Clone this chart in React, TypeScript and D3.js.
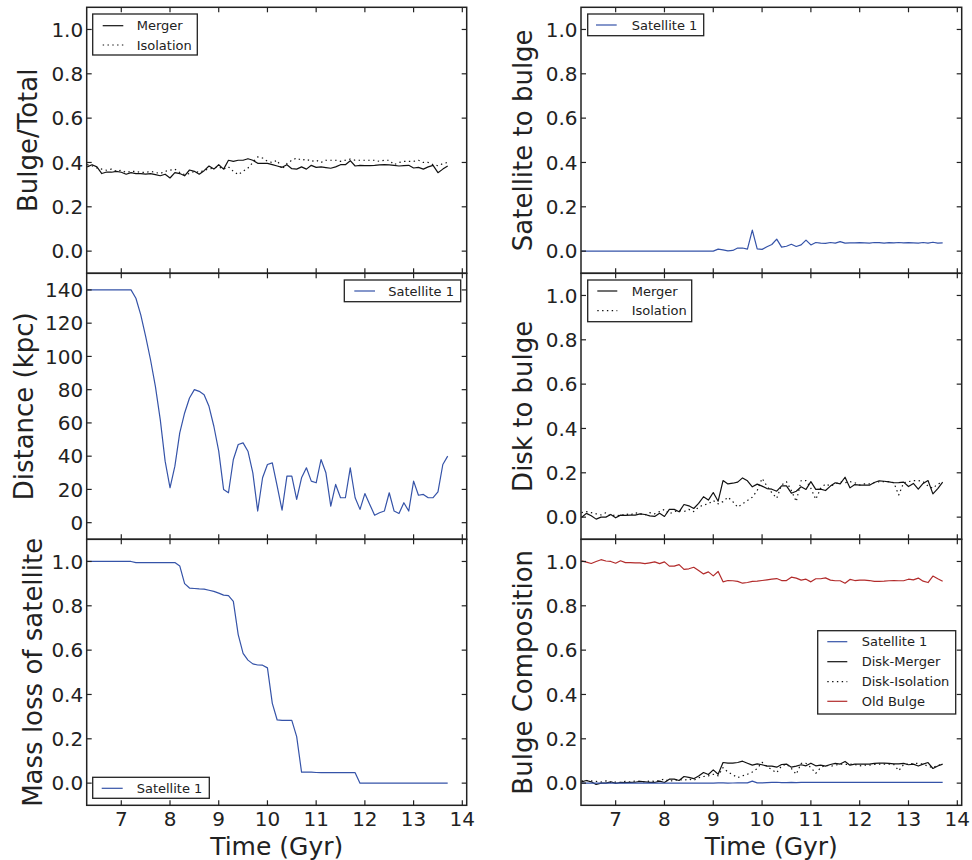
import React from 'react';
import * as d3 from 'd3';

// ---------------- DATA ----------------
const TIME = [
  6.3, 6.4, 6.5, 6.6, 6.7, 6.8, 6.9, 7.0, 7.1, 7.2,
  7.3, 7.4, 7.5, 7.6, 7.7, 7.8, 7.9, 8.0, 8.1, 8.2,
  8.3, 8.4, 8.5, 8.6, 8.7, 8.8, 8.9, 9.0, 9.1, 9.2,
  9.3, 9.4, 9.5, 9.6, 9.7, 9.8, 9.9, 10.0, 10.1, 10.2,
  10.3, 10.4, 10.5, 10.6, 10.7, 10.8, 10.9, 11.0, 11.1, 11.2,
  11.3, 11.4, 11.5, 11.6, 11.7, 11.8, 11.9, 12.0, 12.1, 12.2,
  12.3, 12.4, 12.5, 12.6, 12.7, 12.8, 12.9, 13.0, 13.1, 13.2,
  13.3, 13.4, 13.5, 13.6, 13.7,
];

const BT_MERGER = [
  0.38, 0.39, 0.38, 0.35, 0.357, 0.356, 0.36, 0.356, 0.347, 0.354,
  0.35, 0.35, 0.347, 0.35, 0.345, 0.34, 0.347, 0.33, 0.354, 0.35,
  0.34, 0.366, 0.36, 0.347, 0.363, 0.384, 0.37, 0.39, 0.37, 0.41,
  0.405, 0.41, 0.41, 0.417, 0.41, 0.396, 0.396, 0.396, 0.39, 0.384,
  0.378, 0.39, 0.372, 0.37, 0.38, 0.37, 0.387, 0.378, 0.38, 0.377,
  0.374, 0.38, 0.39, 0.39, 0.408, 0.384, 0.387, 0.386, 0.386, 0.387,
  0.389, 0.39, 0.389, 0.387, 0.384, 0.386, 0.387, 0.375, 0.378, 0.37,
  0.38, 0.387, 0.354, 0.37, 0.384,
];
const BT_ISOLATION = [
  0.39, 0.385, 0.375, 0.37, 0.365, 0.37, 0.36, 0.365, 0.355, 0.36,
  0.36, 0.355, 0.355, 0.36, 0.355, 0.35, 0.36, 0.365, 0.37, 0.355,
  0.345, 0.35, 0.36, 0.355, 0.365, 0.37, 0.375, 0.38, 0.37, 0.38,
  0.36, 0.345, 0.36, 0.375, 0.40, 0.425, 0.42, 0.405, 0.40, 0.41,
  0.37, 0.395, 0.41, 0.42, 0.41, 0.415, 0.405, 0.41, 0.40, 0.41,
  0.41, 0.41, 0.405, 0.41, 0.415, 0.41, 0.41, 0.41, 0.41, 0.41,
  0.405, 0.41, 0.41, 0.39, 0.40, 0.405, 0.405, 0.405, 0.41, 0.40,
  0.40, 0.39, 0.385, 0.395, 0.40,
];

const DISTANCE = [
  140, 140, 140, 140, 140, 140, 140, 140, 140, 140,
  135, 125, 112, 98, 82, 62, 37, 21, 34, 54,
  66, 75, 80, 79, 77, 70, 58, 43, 20, 18,
  38, 47, 48, 43, 30, 7, 27, 35, 36, 22,
  7.5, 28, 28, 14, 27, 33, 25, 24, 38, 30,
  10, 23, 15, 15, 33, 15, 8, 17.5, 11, 4.5,
  6, 7, 18, 7, 5.5, 12, 7, 25, 16.5, 17,
  15, 15, 18.5, 35, 40,
];

const MASS_LOSS = [
  1.0, 1.0, 1.0, 1.0, 1.0, 1.0, 1.0, 1.0, 1.0, 1.0,
  0.995, 0.995, 0.995, 0.995, 0.995, 0.995, 0.995, 0.995, 0.995, 0.98,
  0.90, 0.88, 0.878, 0.876, 0.875, 0.87, 0.865, 0.857, 0.848, 0.846,
  0.82, 0.67, 0.585, 0.555, 0.538, 0.533, 0.532, 0.52, 0.36, 0.285,
  0.283, 0.283, 0.283, 0.21, 0.05, 0.05, 0.05, 0.048, 0.047, 0.047,
  0.047, 0.047, 0.047, 0.047, 0.047, 0.047, 0.0, 0.0, 0.0, 0.0,
  0.0, 0.0, 0.0, 0.0, 0.0, 0.0, 0.0, 0.0, 0.0, 0.0,
  0.0, 0.0, 0.0, 0.0, 0.0,
];

const SAT_TO_BULGE = [
  0, 0, 0, 0, 0, 0, 0, 0, 0, 0,
  0, 0, 0, 0, 0, 0, 0, 0, 0, 0,
  0, 0, 0, 0, 0, 0, 0, 0, 0.009, 0.006,
  0.0015, 0.003, 0.014, 0.014, 0.009, 0.095, 0.01, 0.008, 0.02, 0.03,
  0.054, 0.018, 0.022, 0.031, 0.021, 0.028, 0.05, 0.028, 0.039, 0.036,
  0.035, 0.039, 0.036, 0.043, 0.036, 0.037, 0.037, 0.038, 0.037, 0.036,
  0.039, 0.038, 0.036, 0.038, 0.037, 0.039, 0.037, 0.038, 0.037, 0.036,
  0.039, 0.036, 0.040, 0.036, 0.037,
];

const DB_MERGER = [
  -0.002, 0.017, 0.006, -0.009, 0.0, 0.0, 0.012, -0.003, 0.009, 0.008,
  0.009, 0.009, 0.015, 0.012, 0.006, 0.003, 0.017, 0.003, 0.035, 0.035,
  0.024, 0.057, 0.051, 0.039, 0.062, 0.092, 0.077, 0.111, 0.072, 0.165,
  0.15, 0.153, 0.158, 0.177, 0.164, 0.137, 0.149, 0.14, 0.129, 0.126,
  0.117, 0.141, 0.141, 0.108, 0.117, 0.137, 0.125, 0.16, 0.125, 0.126,
  0.12, 0.14, 0.155, 0.15, 0.18, 0.132, 0.147, 0.144, 0.144, 0.144,
  0.156, 0.164, 0.162, 0.159, 0.155, 0.156, 0.158, 0.138, 0.152, 0.126,
  0.152, 0.165, 0.105, 0.129, 0.158,
];
const DB_ISOLATION = [
  0.02, 0.025, 0.02, 0.015, 0.01, 0.02, 0.005, 0.01, 0.005, 0.015,
  0.01, 0.02, 0.015, 0.01, 0.02, 0.015, 0.025, 0.035, 0.015, 0.025,
  0.03, 0.025, 0.035, 0.025, 0.045, 0.055, 0.06, 0.075, 0.06, 0.07,
  0.09, 0.07, 0.045, 0.06, 0.075, 0.09, 0.12, 0.175, 0.14, 0.11,
  0.085, 0.145, 0.16, 0.12, 0.07, 0.165, 0.165, 0.13, 0.08, 0.13,
  0.15, 0.14, 0.15, 0.16, 0.155, 0.16, 0.155, 0.145, 0.15, 0.15,
  0.155, 0.16, 0.16, 0.16, 0.155, 0.10, 0.155, 0.16, 0.165, 0.165,
  0.16, 0.14, 0.13, 0.15, 0.155,
];

const COMP_SATELLITE = [
  0, 0, 0, 0, 0, 0, 0, 0, 0, 0,
  0, 0, 0, 0, 0, 0, 0, 0, 0, 0,
  0, 0, 0, 0, 0, 0, 0, 0, 0.001, 0.001,
  0, 0.0005, 0.001, 0.001, 0.001, 0.009, 0.001, 0.001, 0.002, 0.003,
  0.004, 0.002, 0.002, 0.003, 0.002, 0.003, 0.004, 0.003, 0.003, 0.003,
  0.003, 0.003, 0.003, 0.003, 0.003, 0.003, 0.003, 0.003, 0.003, 0.003,
  0.003, 0.003, 0.003, 0.003, 0.003, 0.003, 0.003, 0.003, 0.003, 0.003,
  0.003, 0.003, 0.003, 0.003, 0.003,
];
const COMP_DISK_MERGER = [
  0.006, 0.012, 0.006, -0.006, 0.0, 0.0, 0.006, -0.001, 0.003, 0.002,
  0.003, 0.004, 0.008, 0.006, 0.003, 0.003, 0.009, 0.003, 0.018, 0.018,
  0.012, 0.03, 0.026, 0.02, 0.032, 0.048, 0.039, 0.06, 0.04, 0.093,
  0.09, 0.09, 0.093, 0.099, 0.09, 0.081, 0.087, 0.083, 0.077, 0.077,
  0.072, 0.084, 0.086, 0.072, 0.077, 0.083, 0.078, 0.09, 0.078, 0.081,
  0.077, 0.084, 0.089, 0.086, 0.098, 0.081, 0.086, 0.086, 0.086, 0.086,
  0.089, 0.09, 0.09, 0.089, 0.087, 0.087, 0.089, 0.083, 0.086, 0.077,
  0.086, 0.093, 0.066, 0.077, 0.086,
];
const COMP_DISK_ISOLATION = [
  0.01, 0.012, 0.01, 0.008, 0.005, 0.01, 0.003, 0.005, 0.003, 0.008,
  0.005, 0.01, 0.008, 0.005, 0.01, 0.008, 0.013, 0.018, 0.008, 0.013,
  0.016, 0.013, 0.018, 0.013, 0.024, 0.03, 0.033, 0.04, 0.033, 0.07,
  0.05, 0.038, 0.025, 0.033, 0.04, 0.05, 0.066, 0.094, 0.076, 0.06,
  0.047, 0.078, 0.086, 0.066, 0.04, 0.089, 0.089, 0.07, 0.044, 0.07,
  0.081, 0.076, 0.081, 0.086, 0.084, 0.086, 0.084, 0.078, 0.081, 0.081,
  0.084, 0.086, 0.086, 0.086, 0.084, 0.056, 0.084, 0.086, 0.089, 0.089,
  0.086, 0.076, 0.07, 0.081, 0.084,
];
const COMP_OLD_BULGE = [
  1.003, 0.997, 0.991, 1.0, 1.008, 1.002, 1.0, 0.992, 1.003, 0.995,
  0.995, 0.994, 0.994, 0.99, 0.994, 0.998, 0.99, 0.998, 0.979, 0.979,
  0.986, 0.964, 0.967, 0.974, 0.959, 0.944, 0.953, 0.935, 0.955, 0.908,
  0.914, 0.913, 0.91, 0.902, 0.905, 0.91, 0.911, 0.914, 0.917, 0.92,
  0.923, 0.914, 0.914, 0.929, 0.925, 0.916, 0.92, 0.908, 0.922, 0.922,
  0.926, 0.916, 0.913, 0.913, 0.902, 0.919, 0.914, 0.916, 0.916, 0.914,
  0.91, 0.91, 0.911, 0.913, 0.914, 0.913, 0.913, 0.92, 0.917, 0.925,
  0.911, 0.905, 0.934, 0.922, 0.911,
];

const X_TICKS = [7, 8, 9, 10, 11, 12, 13, 14];
const FRAC_TICKS = [0.0, 0.2, 0.4, 0.6, 0.8, 1.0];
const DIST_TICKS = [0, 20, 40, 60, 80, 100, 120, 140];

// ---------------- STYLE / LAYOUT ----------------
const FONT = '"DejaVu Sans", "Liberation Sans", sans-serif';
const BLUE = '#3553a8';
const RED = '#b22b2b';
const BLACK = '#111';
const FRAME = '#222';
const COLS = [
  { x0: 86.7, x1: 466.7 },
  { x0: 581, x1: 961.7 },
];
const ROWS = [7.3, 273.3, 539.3, 805.3];
const X_DOMAIN: [number, number] = [6.29, 14.09];
const DOT = '1.4,3.4';

type Series = { values: number[]; color: string; dash?: string; label: string };
type LegendSpec = { x0: number; y0: number; x1: number; y1: number; rowY: number[]; sx0: number; sx1: number; tx: number; items: Series[] };

type PanelProps = {
  id: string;
  col: number;
  row: number;
  yDomain: [number, number];
  yTicks: number[];
  yFmt: (v: number) => string;
  ylabel: string;
  ylabelX: number;
  series: Series[];
  legend: LegendSpec;
  xLabels: boolean;
};

function Panel(p: PanelProps) {
  const { x0, x1 } = COLS[p.col];
  const top = ROWS[p.row];
  const bottom = ROWS[p.row + 1];
  const x = d3.scaleLinear().domain(X_DOMAIN).range([x0, x1]);
  const y = d3.scaleLinear().domain(p.yDomain).range([bottom, top]);
  const line = d3
    .line<number>()
    .x((_, i) => x(TIME[i]))
    .y((d) => y(d));
  const TL = 5;
  const cy = (top + bottom) / 2;
  return (
    <g>
      <defs>
        <clipPath id={`clip-${p.id}`}>
          <rect x={x0} y={top} width={x1 - x0} height={bottom - top} />
        </clipPath>
      </defs>
      <g clipPath={`url(#clip-${p.id})`}>
        {p.series.map((s, k) => (
          <path
            key={k}
            d={line(s.values) || ''}
            fill="none"
            stroke={s.color}
            strokeWidth={1.2}
            strokeDasharray={s.dash}
            strokeLinejoin="round"
          />
        ))}
      </g>
      {/* ticks */}
      {X_TICKS.map((t) => (
        <g key={`xt${t}`}>
          <line x1={x(t)} x2={x(t)} y1={bottom} y2={bottom - TL} stroke={FRAME} strokeWidth={1.2} />
          <line x1={x(t)} x2={x(t)} y1={top} y2={top + TL} stroke={FRAME} strokeWidth={1.2} />
          {p.xLabels && (
            <text x={x(t)} y={bottom + 20.5} textAnchor="middle" fontSize={20} fontFamily={FONT} fill="#222">
              {t}
            </text>
          )}
        </g>
      ))}
      {p.yTicks.map((t) => (
        <g key={`yt${t}`}>
          <line x1={x0} x2={x0 + TL} y1={y(t)} y2={y(t)} stroke={FRAME} strokeWidth={1.2} />
          <line x1={x1} x2={x1 - TL} y1={y(t)} y2={y(t)} stroke={FRAME} strokeWidth={1.2} />
          <text x={x0 - 3.5} y={y(t)} dy="0.36em" textAnchor="end" fontSize={20} fontFamily={FONT} fill="#222">
            {p.yFmt(t)}
          </text>
        </g>
      ))}
      <rect x={x0} y={top} width={x1 - x0} height={bottom - top} fill="none" stroke={FRAME} strokeWidth={1.5} />
      <text
        transform={`translate(${p.ylabelX},${cy}) rotate(-90)`}
        textAnchor="middle"
        fontSize={26}
        fontFamily={FONT}
        fill="#222"
      >
        {p.ylabel}
      </text>
      {p.xLabels && (
        <text x={(x0 + x1) / 2} y={854.5} textAnchor="middle" fontSize={25} fontFamily={FONT} fill="#222">
          Time (Gyr)
        </text>
      )}
      {/* legend */}
      <rect
        x={p.legend.x0}
        y={p.legend.y0}
        width={p.legend.x1 - p.legend.x0}
        height={p.legend.y1 - p.legend.y0}
        fill="#fff"
        stroke={FRAME}
        strokeWidth={1.3}
      />
      {p.legend.items.map((s, k) => (
        <g key={`lg${k}`}>
          <line
            x1={p.legend.sx0}
            x2={p.legend.sx1}
            y1={p.legend.rowY[k]}
            y2={p.legend.rowY[k]}
            stroke={s.color}
            strokeWidth={1.2}
            strokeDasharray={s.dash}
          />
          <text x={p.legend.tx} y={p.legend.rowY[k]} dy="0.36em" fontSize={13} fontFamily={FONT} fill="#222">
            {s.label}
          </text>
        </g>
      ))}
    </g>
  );
}

const fmt1 = d3.format('.1f');
const fmt0 = d3.format('d');

export default function App() {
  const sBTm: Series = { values: BT_MERGER, color: BLACK, label: 'Merger' };
  const sBTi: Series = { values: BT_ISOLATION, color: BLACK, dash: DOT, label: 'Isolation' };
  const sDist: Series = { values: DISTANCE, color: BLUE, label: 'Satellite 1' };
  const sMass: Series = { values: MASS_LOSS, color: BLUE, label: 'Satellite 1' };
  const sSat: Series = { values: SAT_TO_BULGE, color: BLUE, label: 'Satellite 1' };
  const sDBm: Series = { values: DB_MERGER, color: BLACK, label: 'Merger' };
  const sDBi: Series = { values: DB_ISOLATION, color: BLACK, dash: DOT, label: 'Isolation' };
  const sCs: Series = { values: COMP_SATELLITE, color: BLUE, label: 'Satellite 1' };
  const sCm: Series = { values: COMP_DISK_MERGER, color: BLACK, label: 'Disk-Merger' };
  const sCi: Series = { values: COMP_DISK_ISOLATION, color: BLACK, dash: DOT, label: 'Disk-Isolation' };
  const sCo: Series = { values: COMP_OLD_BULGE, color: RED, label: 'Old Bulge' };

  return (
    <svg width={972} height={860} style={{ display: 'block', position: 'absolute', left: 0, top: 0, background: '#fff' }}>
      <rect width={972} height={860} fill="#fff" />
      <Panel
        id="bt" col={0} row={0} yDomain={[-0.1, 1.1]} yTicks={FRAC_TICKS} yFmt={fmt1}
        ylabel="Bulge/Total" ylabelX={37}
        series={[sBTm, sBTi]} xLabels={false}
        legend={{ x0: 92.7, y0: 14, x1: 197.3, y1: 55, rowY: [25.7, 45], sx0: 102.7, sx1: 123.3, tx: 136.7, items: [sBTm, sBTi] }}
      />
      <Panel
        id="dist" col={0} row={1} yDomain={[-10, 150]} yTicks={DIST_TICKS} yFmt={fmt0}
        ylabel="Distance (kpc)" ylabelX={33}
        series={[sDist]} xLabels={false}
        legend={{ x0: 344.3, y0: 280, x1: 460.7, y1: 301.7, rowY: [291], sx0: 354.3, sx1: 375, tx: 388.3, items: [sDist] }}
      />
      <Panel
        id="mass" col={0} row={2} yDomain={[-0.1, 1.1]} yTicks={FRAC_TICKS} yFmt={fmt1}
        ylabel="Mass loss of satellite" ylabelX={42}
        series={[sMass]} xLabels={true}
        legend={{ x0: 92.7, y0: 777.3, x1: 209.3, y1: 798.3, rowY: [788.3], sx0: 101.7, sx1: 122.7, tx: 136.7, items: [sMass] }}
      />
      <Panel
        id="sat" col={1} row={0} yDomain={[-0.1, 1.1]} yTicks={FRAC_TICKS} yFmt={fmt1}
        ylabel="Satellite to bulge" ylabelX={532}
        series={[sSat]} xLabels={false}
        legend={{ x0: 587.7, y0: 14, x1: 703.7, y1: 35.7, rowY: [25], sx0: 596, sx1: 616.7, tx: 631.7, items: [sSat] }}
      />
      <Panel
        id="db" col={1} row={1} yDomain={[-0.1, 1.1]} yTicks={FRAC_TICKS} yFmt={fmt1}
        ylabel="Disk to bulge" ylabelX={532}
        series={[sDBm, sDBi]} xLabels={false}
        legend={{ x0: 587.7, y0: 280, x1: 691.7, y1: 321.7, rowY: [291, 310.7], sx0: 597.3, sx1: 617.3, tx: 631.7, items: [sDBm, sDBi] }}
      />
      <Panel
        id="comp" col={1} row={2} yDomain={[-0.1, 1.1]} yTicks={FRAC_TICKS} yFmt={fmt1}
        ylabel="Bulge Composition" ylabelX={532}
        series={[sCm, sCi, sCs, sCo]} xLabels={true}
        legend={{ x0: 817.7, y0: 630.7, x1: 955.7, y1: 714, rowY: [641.7, 661.7, 681.7, 701.3], sx0: 827.3, sx1: 847.3, tx: 861.7, items: [sCs, sCm, sCi, sCo] }}
      />
    </svg>
  );
}
